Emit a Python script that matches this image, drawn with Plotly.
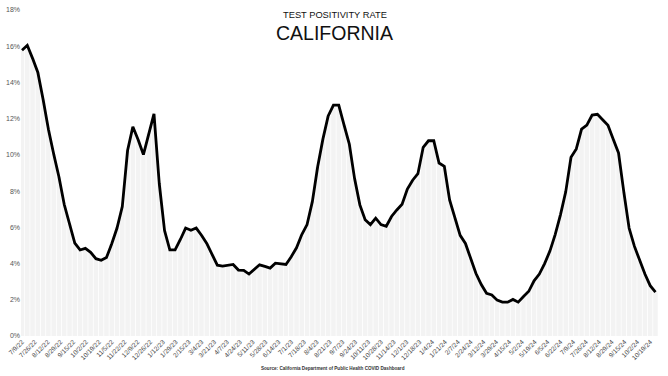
import pandas as pd
import plotly.graph_objects as go

# Weekly dates (121 weeks starting 7/9/22)
dates = pd.date_range("2022-07-09", periods=121, freq="7D")

positivity = [
    15.78, 16.05, 15.33, 14.55, 13.06, 11.42, 10.05, 8.78, 7.26, 6.16,
    5.13, 4.75, 4.84, 4.62, 4.27, 4.18, 4.33, 5.09, 5.96, 7.15,
    10.24, 11.55, 10.84, 10.02, 11.18, 12.27, 8.42, 5.82, 4.75, 4.75,
    5.33, 5.96, 5.84, 5.96, 5.56, 5.11, 4.51, 3.91, 3.86, 3.91,
    3.95, 3.64, 3.62, 3.42, 3.66, 3.93, 3.84, 3.75, 4.02, 3.98,
    3.95, 4.38, 4.87, 5.60, 6.15, 7.42, 9.33, 10.87, 12.15, 12.75,
    12.75, 11.66, 10.60, 8.69, 7.24, 6.42, 6.15, 6.51, 6.15, 6.06,
    6.60, 6.96, 7.27, 8.11, 8.60, 8.96, 10.42, 10.78, 10.78, 9.55,
    9.37, 7.51, 6.51, 5.56, 5.11, 4.24, 3.45, 2.84, 2.36, 2.27,
    1.98, 1.87, 1.87, 2.02, 1.87, 2.18, 2.47, 3.05, 3.42, 4.00,
    4.69, 5.60, 6.69, 7.96, 9.87, 10.33, 11.42, 11.64, 12.20, 12.24,
    11.96, 11.64, 10.87, 10.11, 7.96, 5.96, 4.96, 4.15, 3.42, 2.78,
    2.42,
]

tick_labels = [
    "7/9/22", "7/26/22", "8/12/22", "8/29/22", "9/15/22", "10/2/22", "10/19/22",
    "11/5/22", "11/22/22", "12/9/22", "12/26/22", "1/12/23", "1/29/23", "2/15/23",
    "3/4/23", "3/21/23", "4/7/23", "4/24/23", "5/11/23", "5/28/23", "6/14/23",
    "7/1/23", "7/18/23", "8/4/23", "8/21/23", "9/7/23", "9/24/23", "10/11/23",
    "10/28/23", "11/14/23", "12/1/23", "12/18/23", "1/4/24", "1/21/24", "2/7/24",
    "2/24/24", "3/12/24", "3/29/24", "4/15/24", "5/2/24", "5/19/24", "6/5/24",
    "6/22/24", "7/9/24", "7/26/24", "8/12/24", "8/29/24", "9/15/24", "10/2/24",
    "10/19/24",
]
tick_vals = [pd.to_datetime(t, format="%m/%d/%y") for t in tick_labels]

y_ticks = [0, 2, 4, 6, 8, 10, 12, 14, 16, 18]

fig = go.Figure()
fig.add_trace(go.Bar(
    x=dates, y=positivity,
    marker=dict(color="#f3f3f3", line=dict(width=0)),
    width=6 * 24 * 3600 * 1000,
    hoverinfo="skip",
))
fig.add_trace(go.Scatter(
    x=dates, y=positivity, mode="lines",
    line=dict(color="#000000", width=2.8),
))

fig.update_layout(
    width=668, height=376,
    margin=dict(l=20, r=8, t=6, b=40),
    paper_bgcolor="white", plot_bgcolor="white",
    showlegend=False,
    font=dict(family="Liberation Sans, Arial, sans-serif", color="#444"),
    xaxis=dict(
        type="date",
        range=[pd.Timestamp("2022-07-07 16:00"), pd.Timestamp("2024-11-01")],
        tickvals=tick_vals, ticktext=tick_labels, tickangle=-45,
        tickfont=dict(size=6.5, color="#444"),
        showgrid=False, zeroline=False, showline=False, ticks="",
    ),
    yaxis=dict(
        range=[0, 18], tickvals=y_ticks,
        ticktext=[f"{v}%" for v in y_ticks],
        tickfont=dict(size=7, color="#555"),
        showgrid=False, zeroline=False, showline=False, ticks="",
    ),
    annotations=[
        dict(text="TEST POSITIVITY RATE", x=334, y=11,
             showarrow=False, font=dict(size=9.3, color="#111")),
        dict(text="CALIFORNIA", x=334, y=29,
             showarrow=False, font=dict(size=19.5, color="#111")),
        dict(text="<b>Source: California Department of Public Health COVID Dashboard</b>",
             x=332, y=369,
             showarrow=False, font=dict(size=4.6, color="#333")),
    ],
)

# convert pixel positions of annotations to paper coordinates
plot_left, plot_w = 20, 668 - 20 - 8
plot_top, plot_h = 6, 376 - 6 - 40
for a in fig.layout.annotations:
    a.xref = "paper"
    a.yref = "paper"
    a.x = (a.x - plot_left) / plot_w
    a.y = 1 - (a.y - plot_top) / plot_h
    a.xanchor = "center"
    a.yanchor = "middle"

fig.write_html("out.html")
